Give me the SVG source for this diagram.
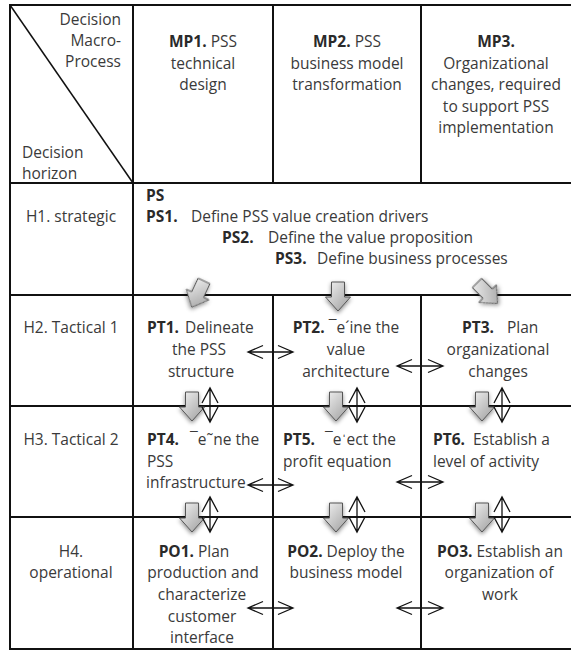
<svg xmlns="http://www.w3.org/2000/svg" width="571" height="651" viewBox="0 0 571 651">
<style>
text{font-family:"Open Sans","Liberation Sans",sans-serif;font-size:15.5px;fill:#3a3a3a}
.b{font-weight:bold;fill:#2a2a2a}
.m{text-anchor:middle}
.e{text-anchor:end}
.grid line{stroke:#111;stroke-width:2}
.dbl{fill:none;stroke:#111;stroke-width:1.3}
.blk{fill:url(#gg);stroke:#555;stroke-width:1;filter:url(#sh)}
</style>
<defs>
<linearGradient id="gg" x1="0" y1="0" x2="1" y2="1">
<stop offset="0" stop-color="#f4f4f4"/>
<stop offset="1" stop-color="#9c9c9c"/>
</linearGradient>
<filter id="sh" x="-50%" y="-50%" width="200%" height="200%">
<feDropShadow dx="0" dy="2" stdDeviation="2" flood-color="#000" flood-opacity="0.45"/>
</filter>
<path id="blkp" d="M-6.5,0 H6.5 V15 H12.5 L0,29 L-12.5,15 H-6.5 Z"/>
</defs>
<rect width="571" height="651" fill="#fff"/>
<g class="grid" id="grid">
<line x1="9" y1="5" x2="571" y2="5"/>
<line x1="9" y1="183" x2="571" y2="183"/>
<line x1="9" y1="295" x2="571" y2="295"/>
<line x1="9" y1="406" x2="571" y2="406"/>
<line x1="9" y1="517" x2="571" y2="517"/>
<line x1="9" y1="649" x2="571" y2="649"/>
<line x1="10" y1="4" x2="10" y2="650"/>
<line x1="133" y1="4" x2="133" y2="650"/>
<line x1="273" y1="4" x2="273" y2="183"/>
<line x1="421" y1="4" x2="421" y2="183"/>
<line x1="273" y1="295" x2="273" y2="650"/>
<line x1="421" y1="295" x2="421" y2="650"/>
<line x1="10" y1="5" x2="133" y2="183" style="stroke-width:1.5"/>
</g>
<g id="corner">
<text class="e" x="121" y="25">Decision</text>
<text class="e" x="121" y="46">Macro-</text>
<text class="e" x="121" y="67">Process</text>
<text x="22" y="158">Decision</text>
<text x="22" y="179">horizon</text>
</g>
<g id="MP1">
<text class="m" x="203" y="47"><tspan class="b">MP1.</tspan> PSS</text>
<text class="m" x="203" y="69">technical</text>
<text class="m" x="203" y="90">design</text>
</g>
<g id="MP2">
<text class="m" x="347" y="47"><tspan class="b">MP2.</tspan> PSS</text>
<text class="m" x="347" y="69">business model</text>
<text class="m" x="347" y="90">transformation</text>
</g>
<g id="MP3">
<text class="m b" x="496" y="47">MP3.</text>
<text class="m" x="496" y="69">Organizational</text>
<text class="m" x="496" y="90">changes, required</text>
<text class="m" x="496" y="112">to support PSS</text>
<text class="m" x="496" y="133">implementation</text>
</g>
<g id="H1"><text class="m" x="71" y="222">H1. strategic</text></g>
<g id="H2"><text class="m" x="71" y="333">H2. Tactical 1</text></g>
<g id="H3"><text class="m" x="71" y="445">H3. Tactical 2</text></g>
<g id="H4">
<text class="m" x="71" y="557">H4.</text>
<text class="m" x="71" y="578">operational</text>
</g>
<g id="PS">
<text class="b" x="146" y="201">PS</text>
<text x="146" y="222"><tspan class="b">PS1.</tspan><tspan x="191">Define PSS value creation drivers</tspan></text>
<text x="222" y="243"><tspan class="b">PS2.</tspan><tspan x="268">Define the value proposition</tspan></text>
<text x="275" y="264"><tspan class="b">PS3.</tspan><tspan x="317">Define business processes</tspan></text>
</g>
<g id="PT1">
<text x="147" y="333"><tspan class="b">PT1.</tspan><tspan x="185">Delineate</tspan></text>
<text class="m" x="199" y="355">the PSS</text>
<text class="m" x="201" y="377">structure</text>
</g>
<g id="PT2">
<text class="m" x="346" y="333"><tspan class="b">PT2.</tspan> ¯e´ine the</text>
<text class="m" x="346" y="355">value</text>
<text class="m" x="346" y="377">architecture</text>
</g>
<g id="PT3">
<text x="462" y="333"><tspan class="b">PT3.</tspan><tspan x="507">Plan</tspan></text>
<text class="m" x="498" y="355">organizational</text>
<text class="m" x="498" y="377">changes</text>
</g>
<g id="PT4">
<text x="147" y="445"><tspan class="b">PT4.</tspan><tspan x="190">¯e˜ne the</tspan></text>
<text x="147" y="467">PSS</text>
<text x="146" y="488">infrastructure</text>
</g>
<g id="PT5">
<text x="283" y="445"><tspan class="b">PT5.</tspan><tspan x="325">¯eˈect the</tspan></text>
<text x="283" y="467">profit equation</text>
</g>
<g id="PT6">
<text x="433" y="445"><tspan class="b">PT6.</tspan><tspan x="473">Establish a</tspan></text>
<text x="433" y="467">level of activity</text>
</g>
<g id="PO1">
<text class="m" x="194" y="557"><tspan class="b">PO1.</tspan> Plan</text>
<text class="m" x="203" y="578">production and</text>
<text class="m" x="202" y="600">characterize</text>
<text class="m" x="202" y="622">customer</text>
<text class="m" x="202" y="643">interface</text>
</g>
<g id="PO2">
<text class="m" x="346" y="557"><tspan class="b">PO2.</tspan> Deploy the</text>
<text class="m" x="346" y="578">business model</text>
</g>
<g id="PO3">
<text class="m" x="500" y="557"><tspan class="b">PO3.</tspan> Establish an</text>
<text class="m" x="499" y="578">organization of</text>
<text class="m" x="500" y="600">work</text>
</g>
<g id="connectors">
<use href="#blkp" class="blk" transform="translate(204,281) rotate(25)"/>
<use href="#blkp" class="blk" transform="translate(338,282)"/>
<use href="#blkp" class="blk" transform="translate(477,283) rotate(-45)"/>
<use href="#blkp" class="blk" transform="translate(192,392)"/>
<use href="#blkp" class="blk" transform="translate(336,392)"/>
<use href="#blkp" class="blk" transform="translate(482,392)"/>
<use href="#blkp" class="blk" transform="translate(192,503)"/>
<use href="#blkp" class="blk" transform="translate(336,503)"/>
<use href="#blkp" class="blk" transform="translate(482,503)"/>
<path class="dbl" d="M210,388V422M202,403L210,388L218,403M202,407L210,422L218,407"/>
<path class="dbl" d="M357,388V422M349,403L357,388L365,403M349,407L357,422L365,407"/>
<path class="dbl" d="M502,388V422M494,403L502,388L510,403M494,407L502,422L510,407"/>
<path class="dbl" d="M210,497V532M202,512L210,497L218,512M202,517L210,532L218,517"/>
<path class="dbl" d="M357,497V532M349,512L357,497L365,512M349,517L357,532L365,517"/>
<path class="dbl" d="M502,497V532M494,512L502,497L510,512M494,517L502,532L510,517"/>
<path class="dbl" d="M248,352H293M263,345.5L248,352L263,358.5M278,345.5L293,352L278,358.5"/>
<path class="dbl" d="M397,366H443M412,359.5L397,366L412,372.5M428,359.5L443,366L428,372.5"/>
<path class="dbl" d="M248,485H293M263,478.5L248,485L263,491.5M278,478.5L293,485L278,491.5"/>
<path class="dbl" d="M397,482H443M412,475.5L397,482L412,488.5M428,475.5L443,482L428,488.5"/>
<path class="dbl" d="M248,608H293M263,601.5L248,608L263,614.5M278,601.5L293,608L278,614.5"/>
<path class="dbl" d="M397,608H443M412,601.5L397,608L412,614.5M428,601.5L443,608L428,614.5"/>
</g>
</svg>
